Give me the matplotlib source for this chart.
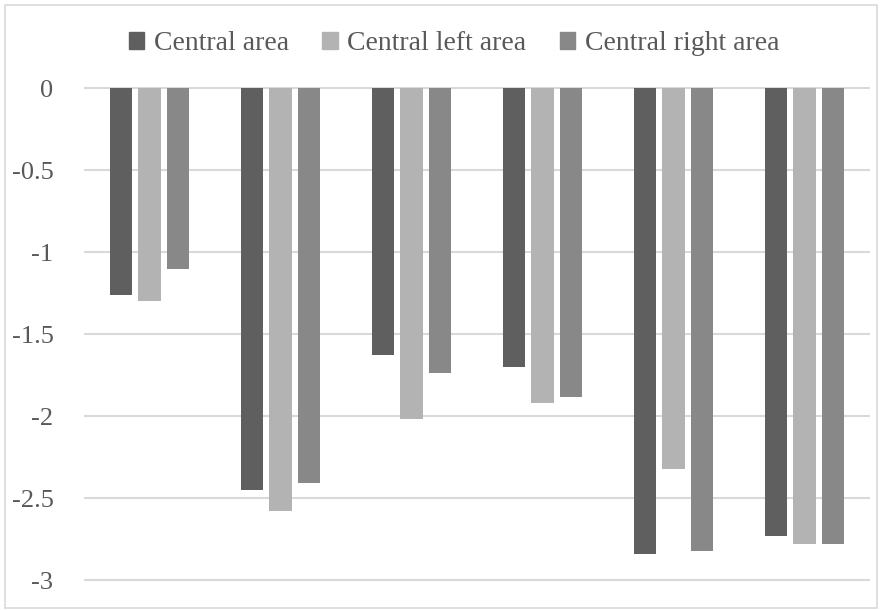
import numpy as np
import matplotlib.pyplot as plt
from matplotlib.patches import Patch, Rectangle

plt.rcParams['font.family'] = ['Liberation Serif', 'DejaVu Serif']

series = ["Central area", "Central left area", "Central right area"]
central = [-1.26, -2.45, -1.63, -1.70, -2.84, -2.73]
central_left = [-1.30, -2.58, -2.02, -1.92, -2.32, -2.78]
central_right = [-1.10, -2.41, -1.74, -1.885, -2.82, -2.78]
yticks = [0, -0.5, -1, -1.5, -2, -2.5, -3]

colors = ['#5f5f5f', '#b3b3b3', '#888888']
text_col = '#595959'

fig = plt.figure(figsize=(8.82, 6.10), dpi=100)
ax = fig.add_axes([84 / 882, 5.4 / 610, 786 / 882, 541 / 610])

x = np.arange(len(central))
step = 0.221
width = 0.168
for i, vals in enumerate([central, central_left, central_right]):
    ax.bar(x + (i - 1) * step, vals, width=width, color=colors[i], zorder=3)

ax.set_xlim(-0.5, len(central) - 0.5)
ax.set_ylim(-3.15, 0.15)
ax.set_yticks(yticks)
ax.set_yticklabels(['0', '-0.5', '-1', '-1.5', '-2', '-2.5', '-3'])
ax.set_xticks([])
ax.tick_params(axis='y', length=0, pad=22, labelsize=19, labelcolor=text_col)
ax.yaxis.grid(True, color='#d9d9d9', linewidth=1.5, zorder=0)
for s in ax.spines.values():
    s.set_visible(False)

handles = [Patch(color=c) for c in colors]
fig.legend(handles, series, loc='center', bbox_to_anchor=(454 / 882, 1 - 44 / 610),
           ncol=3, frameon=False, fontsize=20, labelcolor=text_col,
           handlelength=0.55, handleheight=0.55, handletextpad=0.35, columnspacing=1.2)

fig.patches.append(Rectangle((5 / 882, 2 / 610), 872 / 882, 603 / 610, transform=fig.transFigure,
                             fill=False, edgecolor='#d9d9d9', linewidth=1.2))

fig.savefig('out.png', dpi=100)
